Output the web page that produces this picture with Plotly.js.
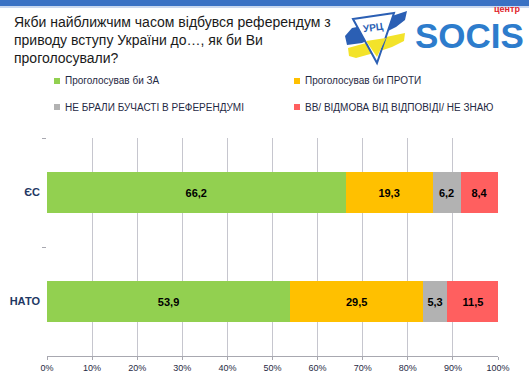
<!DOCTYPE html>
<html>
<head>
<meta charset="utf-8">
<script src="https://cdn.plot.ly/plotly-3.0.1.min.js"></script>
<style>
html,body{margin:0;padding:0;background:#fff;}
#chart{width:529px;height:379px;}
</style>
</head>
<body>
<div id="chart"></div>
<script>
// ---- data ----
var categories = ['ЄС', 'НАТО'];
var seriesNames = ['Проголосував би ЗА', 'Проголосував би ПРОТИ', 'НЕ БРАЛИ БУЧАСТІ В РЕФЕРЕНДУМІ', 'ВВ/ ВІДМОВА ВІД ВІДПОВІДІ/ НЕ ЗНАЮ'];
var valuesFor = [66.2, 53.9];
var valuesAgainst = [19.3, 29.5];
var valuesNoPart = [6.2, 5.3];
var valuesDontKnow = [8.4, 11.5];
var xTickVals = [0, 10, 20, 30, 40, 50, 60, 70, 80, 90, 100];
var xTickText = ['0%', '10%', '20%', '30%', '40%', '50%', '60%', '70%', '80%', '90%', '100%'];
var titleText = 'Якби найближчим часом відбувся референдум з<br>приводу вступу України до…, як би Ви<br>проголосували?';

var colors = ['#92d050', '#ffc000', '#b2b2b2', '#ff5f5f'];
var seriesValues = [valuesFor, valuesAgainst, valuesNoPart, valuesDontKnow];

// plot area geometry (pixels)
var L = 47, R = 498, T = 138, B = 356;
function X(px) { return (px - L) / (R - L); }
function Y(py) { return (B - py) / (B - T); }
function P(pts) {
  return 'M' + pts.map(function (p) { return X(p[0]) + ',' + Y(p[1]); }).join(' L') + ' Z';
}

var traces = seriesValues.map(function (vals, i) {
  return {
    type: 'bar',
    orientation: 'h',
    name: seriesNames[i],
    y: categories,
    x: vals,
    marker: { color: colors[i], line: { width: 0 } },
    texttemplate: '%{x:.1f}',
    textposition: 'inside',
    insidetextanchor: 'middle',
    constraintext: 'none',
    textfont: { family: 'Liberation Sans, Arial, sans-serif', size: 11, color: '#000', weight: 700 },
    hoverinfo: 'skip',
    showlegend: false
  };
});

var shapes = [];
var annotations = [];

// top blue band
shapes.push({ type: 'rect', xref: 'paper', yref: 'paper', x0: X(0), x1: X(529), y0: Y(0), y1: Y(6), fillcolor: '#3a72c4', line: { width: 0 }, layer: 'above' });
shapes.push({ type: 'rect', xref: 'paper', yref: 'paper', x0: X(0), x1: X(529), y0: Y(6), y1: Y(8), fillcolor: '#c9d8ef', line: { width: 0 }, layer: 'above' });

// legend (two columns, two rows)
var legPos = [[57, 81], [297, 81], [57, 107], [297, 107]];
seriesNames.forEach(function (n, i) {
  var px = legPos[i][0], py = legPos[i][1];
  shapes.push({ type: 'rect', xref: 'paper', yref: 'paper', x0: X(px - 3), x1: X(px + 3), y0: Y(py + 3), y1: Y(py - 3), fillcolor: colors[i], line: { width: 0 } });
  annotations.push({ xref: 'paper', yref: 'paper', x: X(px + 6), y: Y(py), xanchor: 'left', yanchor: 'middle', showarrow: false, text: n, font: { family: 'Liberation Sans, Arial, sans-serif', size: 10, color: '#1f2a44' } });
});

// logo: brush strokes
shapes.push({ type: 'path', xref: 'paper', yref: 'paper', path: P([[345, 36], [352, 28], [372, 24], [392, 16], [407, 11], [405, 20], [396, 27], [380, 35], [362, 43], [347, 45]]), fillcolor: '#2b5fb4', line: { width: 0 } });
shapes.push({ type: 'path', xref: 'paper', yref: 'paper', path: P([[348, 48], [366, 43], [386, 37], [405, 33], [404, 41], [392, 47], [374, 53], [356, 58], [349, 56]]), fillcolor: '#f3e32a', line: { width: 0 } });
// shield
shapes.push({ type: 'path', xref: 'paper', yref: 'paper', path: P([[353, 19], [394, 13], [377, 63]]), fillcolor: '#ffffff', line: { color: '#2b5fb4', width: 2 } });
shapes.push({ type: 'path', xref: 'paper', yref: 'paper', path: P([[366, 41], [386, 38], [377, 57]]), fillcolor: '#f3e32a', line: { width: 0 } });
annotations.push({ xref: 'paper', yref: 'paper', x: X(373), y: Y(28), xanchor: 'center', yanchor: 'middle', showarrow: false, text: '<b>УРЦ</b>', textangle: -8, font: { family: 'Liberation Sans, Arial, sans-serif', size: 10, color: '#2b5fb4' } });
// SOCIS text
annotations.push({ xref: 'paper', yref: 'paper', x: X(413), y: Y(35), xanchor: 'left', yanchor: 'middle', showarrow: false, text: '<b>SOCIS</b>', font: { family: 'Liberation Sans, Arial, sans-serif', size: 35, color: '#2d7ccc' } });
annotations.push({ xref: 'paper', yref: 'paper', x: X(522), y: Y(9), xanchor: 'right', yanchor: 'middle', showarrow: false, text: '<b>центр</b>', font: { family: 'Liberation Sans, Arial, sans-serif', size: 9, color: '#e0242c' } });

var layout = {
  width: 529,
  height: 379,
  margin: { l: L, r: 529 - R, t: T, b: 379 - B, pad: 0 },
  paper_bgcolor: '#ffffff',
  plot_bgcolor: '#ffffff',
  separators: ', ',
  barmode: 'stack',
  bargap: 0.615,
  showlegend: false,
  font: { family: 'Liberation Sans, Arial, sans-serif', color: '#1f2a44' },
  title: {
    text: titleText,
    xref: 'container', yref: 'container',
    x: 14 / 529, xanchor: 'left',
    y: 1 - 27 / 379, yanchor: 'top',
    font: { family: 'Liberation Sans, Arial, sans-serif', size: 14, color: '#1a1a1a' }
  },
  xaxis: {
    range: [0, 100],
    tickvals: xTickVals,
    ticktext: xTickText,
    showgrid: true,
    gridcolor: '#c6c6ce',
    gridwidth: 1,
    zeroline: false,
    showline: true,
    linecolor: '#a8a8b0',
    linewidth: 1,
    ticks: 'outside',
    ticklen: 3,
    tickcolor: '#a8a8b0',
    tickfont: { family: 'Liberation Sans, Arial, sans-serif', size: 9, color: '#1f2a44' },
    fixedrange: true
  },
  yaxis: {
    type: 'category',
    categoryorder: 'array',
    categoryarray: categories,
    autorange: 'reversed',
    showgrid: false,
    zeroline: false,
    showline: false,
    ticks: 'outside',
    tickson: 'boundaries',
    ticklen: 4,
    tickcolor: '#a8a8b0',
    ticklabelstandoff: 6,
    tickfont: { family: 'Liberation Sans, Arial, sans-serif', size: 11, color: '#1f3864', weight: 700 },
    fixedrange: true
  },
  shapes: shapes,
  annotations: annotations
};

Plotly.newPlot('chart', traces, layout, { displayModeBar: false, staticPlot: true });
</script>
</body>
</html>
